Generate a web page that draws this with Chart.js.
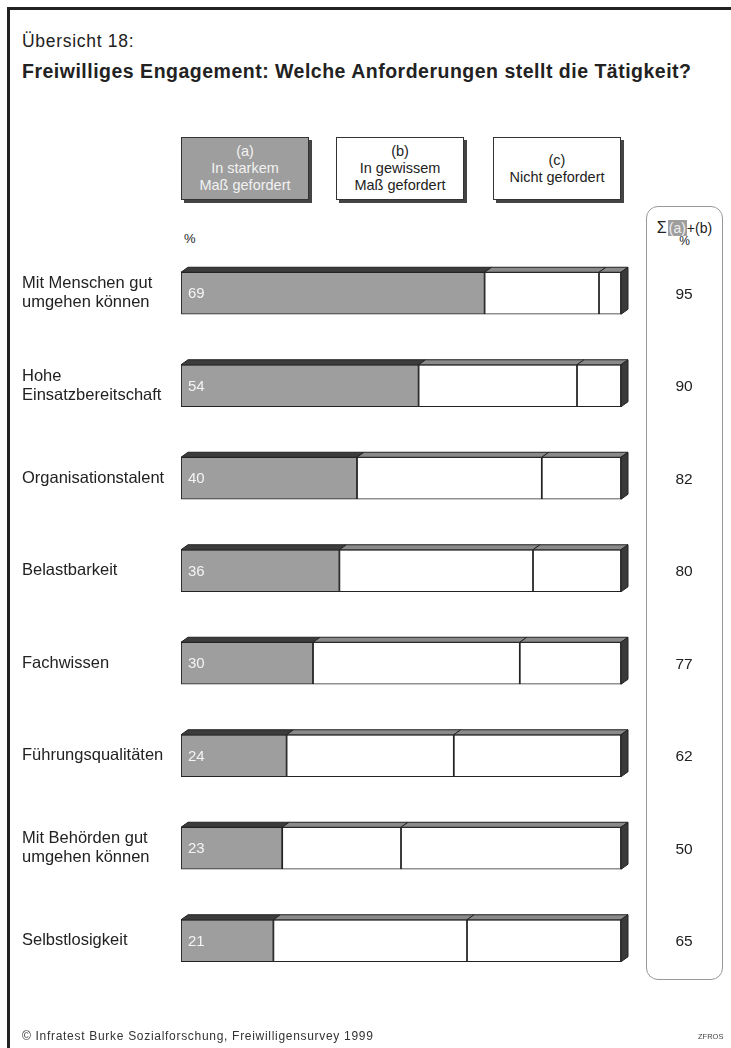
<!DOCTYPE html>
<html lang="de">
<head>
<meta charset="utf-8">
<title>Übersicht 18</title>
<script src="https://cdn.jsdelivr.net/npm/chart.js@4.4.1/dist/chart.umd.min.js"></script>
<style>
  html, body { margin: 0; padding: 0; background: #fff; }
  body { width: 731px; height: 1048px; position: relative; overflow: hidden;
         font-family: "Liberation Sans", Arial, sans-serif; color: #222; }
  #frameTop { position: absolute; left: 7px; top: 7px; right: 0; height: 2.5px; background: #222; }
  #frameLeft { position: absolute; left: 7px; top: 7px; width: 2.5px; bottom: 0; background: #222; }
  #kicker { position: absolute; left: 22px; top: 31px; font-size: 17.5px; letter-spacing: 0.7px; }
  #title { position: absolute; left: 22px; top: 60px; font-size: 19.5px; font-weight: bold; letter-spacing: 0.5px; }
  .legendBox { position: absolute; top: 137px; width: 126px; height: 61px; border: 1px solid #333;
               box-shadow: 3px 3px 0 #444; text-align: center; font-size: 14.5px; line-height: 17px;
               display: flex; flex-direction: column; justify-content: center; }
  #legA { left: 181px; background: #9e9e9e; color: #f2f2f2; }
  #legB { left: 336px; background: #fff; }
  #legC { left: 493px; background: #fff; }
  #pct { position: absolute; left: 184px; top: 231px; font-size: 13px; }
  #sumBox { position: absolute; left: 646px; top: 206px; width: 75px; height: 772px;
            border: 1px solid #999; border-radius: 12px; }
  #sumHead { position: absolute; left: 646px; top: 219px; width: 77px; text-align: center; font-size: 14px; white-space: nowrap; }
  #sumHead .s { font-size: 16px; }
  #sumHead .a { background: #9e9e9e; color: #eee; padding: 0 1px; margin-left: 1px; }
  #sumHead .p { display: block; font-size: 12px; line-height: 9px; }
  #footer { position: absolute; left: 22px; top: 1029px; font-size: 12px; letter-spacing: 0.7px; color: #333; }
  #code { position: absolute; left: 698px; top: 1032px; font-size: 7.5px; color: #444; }
  #chart { position: absolute; left: 0; top: 0; }
</style>
</head>
<body>
<div id="frameTop"></div>
<div id="frameLeft"></div>
<div id="kicker">Übersicht 18:</div>
<div id="title">Freiwilliges Engagement: Welche Anforderungen stellt die Tätigkeit?</div>

<div class="legendBox" id="legA"><div>(a)</div><div>In starkem</div><div>Maß gefordert</div></div>
<div class="legendBox" id="legB"><div>(b)</div><div>In gewissem</div><div>Maß gefordert</div></div>
<div class="legendBox" id="legC"><div>(c)</div><div>Nicht gefordert</div></div>

<div id="pct">%</div>
<div id="sumBox"></div>
<div id="sumHead"><span class="s">Σ</span><span class="a">(a)</span>+(b)<span class="p">%</span></div>

<canvas id="chart" width="731" height="1048"></canvas>

<div id="footer">© Infratest Burke Sozialforschung, Freiwilligensurvey 1999</div>
<div id="code">ZFROS</div>

<script>
// Daten
const categories = [
  ['Mit Menschen gut', 'umgehen können'],
  ['Hohe', 'Einsatzbereitschaft'],
  ['Organisationstalent'],
  ['Belastbarkeit'],
  ['Fachwissen'],
  ['Führungsqualitäten'],
  ['Mit Behörden gut', 'umgehen können'],
  ['Selbstlosigkeit']
];
const starkGefordert = [69, 54, 40, 36, 30, 24, 23, 21];     // (a)
const gewissGefordert = [26, 36, 42, 44, 47, 38, 27, 44];    // (b)
const nichtGefordert = [5, 10, 18, 20, 23, 38, 50, 35];      // (c)
const summeAB = [95, 90, 82, 80, 77, 62, 50, 65];            // Σ (a)+(b)

const FONT = '"Liberation Sans", Arial, sans-serif';
const DEPTH_X = 7;
const DEPTH_Y = 5;

// 3D-Kanten, Beschriftungen und Summenspalte
const bar3dPlugin = {
  id: 'bar3d',
  afterDatasetsDraw(chart) {
    const ctx = chart.ctx;
    const yScale = chart.scales.y;
    ctx.save();
    ctx.lineWidth = 1;
    ctx.strokeStyle = '#222';

    chart.data.datasets.forEach((ds, di) => {
      const meta = chart.getDatasetMeta(di);
      meta.data.forEach((bar, i) => {
        const left = Math.min(bar.base, bar.x);
        const right = Math.max(bar.base, bar.x);
        const top = bar.y - bar.height / 2;
        const bottom = bar.y + bar.height / 2;

        // Oberseite
        ctx.beginPath();
        ctx.moveTo(left, top);
        ctx.lineTo(left + DEPTH_X, top - DEPTH_Y);
        ctx.lineTo(right + DEPTH_X, top - DEPTH_Y);
        ctx.lineTo(right, top);
        ctx.closePath();
        ctx.fillStyle = di === 0 ? '#3c3c3c' : '#8a8a8a';
        ctx.fill();
        ctx.stroke();

        // rechte Seite nur am letzten Segment
        if (di === chart.data.datasets.length - 1) {
          ctx.beginPath();
          ctx.moveTo(right, top);
          ctx.lineTo(right + DEPTH_X, top - DEPTH_Y);
          ctx.lineTo(right + DEPTH_X, bottom - DEPTH_Y);
          ctx.lineTo(right, bottom);
          ctx.closePath();
          ctx.fillStyle = '#3a3a3a';
          ctx.fill();
          ctx.stroke();
        }
      });
    });

    // Werte in den grauen Balken
    const metaA = chart.getDatasetMeta(0);
    ctx.font = '15px ' + FONT;
    ctx.textBaseline = 'middle';
    ctx.textAlign = 'left';
    ctx.fillStyle = '#f4f4f4';
    metaA.data.forEach((bar, i) => {
      ctx.fillText(String(starkGefordert[i]), Math.min(bar.base, bar.x) + 7, bar.y + 1);
    });

    // Kategorien links
    ctx.fillStyle = '#222';
    ctx.font = '16.5px ' + FONT;
    categories.forEach((lines, i) => {
      const y = yScale.getPixelForValue(i);
      const lh = 19;
      const y0 = y - (lines.length - 1) * lh / 2;
      lines.forEach((t, k) => ctx.fillText(t, 22, y0 + k * lh));
    });

    // Summenspalte
    ctx.font = '15.5px ' + FONT;
    ctx.textAlign = 'center';
    summeAB.forEach((v, i) => {
      ctx.fillText(String(v), 684, yScale.getPixelForValue(i) + 1);
    });
    ctx.restore();
  }
};

const chart = new Chart(document.getElementById('chart').getContext('2d'), {
  type: 'bar',
  data: {
    labels: categories,
    datasets: [
      { label: 'In starkem Maß gefordert', data: starkGefordert, backgroundColor: '#9e9e9e' },
      { label: 'In gewissem Maß gefordert', data: gewissGefordert, backgroundColor: '#ffffff' },
      { label: 'Nicht gefordert', data: nichtGefordert, backgroundColor: '#ffffff' }
    ].map(d => Object.assign(d, {
      borderColor: '#222',
      borderWidth: 1.2,
      borderSkipped: false,
      barThickness: 42
    }))
  },
  options: {
    indexAxis: 'y',
    responsive: false,
    animation: false,
    devicePixelRatio: 1,
    layout: { padding: { left: 181, right: 110, top: 247, bottom: 61 } },
    plugins: { legend: { display: false }, tooltip: { enabled: false } },
    scales: {
      x: { stacked: true, min: 0, max: 100, display: false },
      y: { stacked: true, display: false }
    }
  },
  plugins: [bar3dPlugin]
});
</script>
</body>
</html>
